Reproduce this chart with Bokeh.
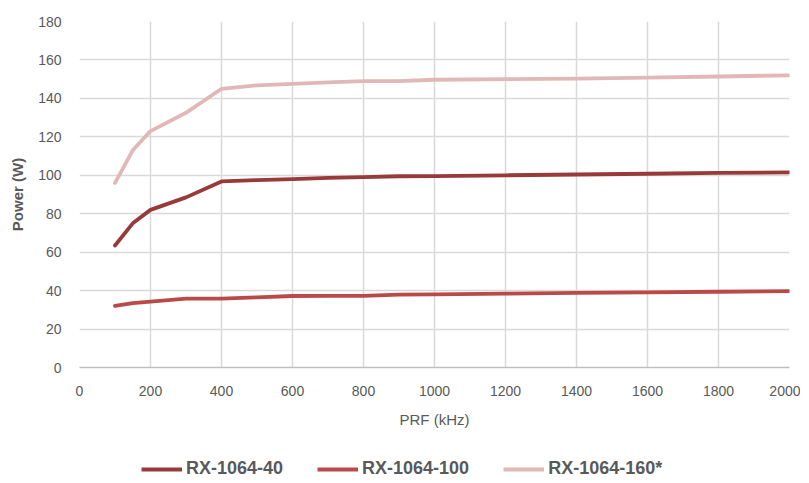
from bokeh.plotting import figure
from bokeh.layouts import column
from bokeh.models import Legend, LegendItem, FixedTicker, Range1d
from bokeh.embed import file_html
from bokeh.resources import INLINE

prf_khz = [100, 150, 200, 300, 400, 500, 600, 700, 800, 900, 1000, 1200, 1400, 1600, 1800, 2000]
rx_40 = [63.5, 75, 82, 88.5, 96.8, 97.5, 98, 98.6, 99, 99.5, 99.6, 100, 100.4, 100.8, 101.2, 101.5]
rx_100 = [32, 33.5, 34.3, 35.8, 35.8, 36.5, 37.2, 37.3, 37.3, 37.9, 38, 38.4, 38.8, 39.1, 39.4, 39.7]
rx_160 = [96, 113, 123, 132.5, 145, 146.8, 147.6, 148.3, 149, 149, 149.7, 150, 150.3, 150.8, 151.4, 152]
series_names = ["RX-1064-40", "RX-1064-100", "RX-1064-160*"]
x_ticks = list(range(0, 2001, 200))
y_ticks = list(range(0, 181, 20))

colors = ["#973A39", "#BA4A47", "#E2B8B6"]
FONT = "Liberation Sans"
TXT = "#595959"
LW = 3.8

# ---- main chart ----
p = figure(width=800, height=430, output_backend="svg", toolbar_location=None,
           x_range=Range1d(0, 2000), y_range=Range1d(0, 180),
           min_border_left=79, min_border_right=11, min_border_top=21, min_border_bottom=62)
p.outline_line_color = None

for ys, c in zip([rx_40, rx_100, rx_160], colors):
    p.line(prf_khz, ys, line_color=c, line_width=LW, line_join="round", line_cap="round")

p.xaxis.ticker = FixedTicker(ticks=x_ticks)
p.yaxis.ticker = FixedTicker(ticks=y_ticks)
for ax in (p.xaxis, p.yaxis):
    ax.major_tick_line_color = None
    ax.minor_tick_line_color = None
    ax.major_label_text_font = FONT
    ax.major_label_text_font_size = "14px"
    ax.major_label_text_color = TXT
    ax.axis_label_text_font = FONT
    ax.axis_label_text_color = TXT
    ax.axis_label_text_font_size = "15px"
p.yaxis.axis_line_color = None
p.xaxis.axis_line_color = "#BFBFBF"
p.xaxis.axis_line_width = 1.5
p.xaxis.major_label_standoff = 12
p.yaxis.major_label_standoff = 12
p.xaxis.axis_label = "PRF (kHz)"
p.xaxis.axis_label_text_font_style = "normal"
p.xaxis.axis_label_standoff = 12
p.yaxis.axis_label = "Power (W)"
p.yaxis.axis_label_text_font_style = "bold"
p.yaxis.axis_label_standoff = 9

p.xgrid.grid_line_color = "#D9D9D9"
p.ygrid.grid_line_color = "#D9D9D9"
p.xgrid.grid_line_width = 1.5
p.ygrid.grid_line_width = 1.5

# ---- legend strip (same series, viewed outside their range so only the legend shows) ----
q = figure(width=800, height=50, output_backend="svg", toolbar_location=None,
           x_range=Range1d(-20, -10), y_range=Range1d(0, 180),
           x_axis_type=None, y_axis_type=None, min_border=0)
q.outline_line_color = None
leg_renderers = [q.line(prf_khz, ys, line_color=c, line_width=LW)
                 for ys, c in zip([rx_40, rx_100, rx_160], colors)]
items = [LegendItem(label=name, renderers=[r]) for name, r in zip(series_names, leg_renderers)]
lg = Legend(items=items, location=(62, 1), orientation="horizontal",
            border_line_color=None, background_fill_alpha=0,
            padding=0, margin=0, spacing=34, glyph_width=41, glyph_height=20, label_standoff=4,
            label_text_font=FONT, label_text_font_size="18px", label_text_font_style="bold",
            label_text_color=TXT)
q.add_layout(lg, "center")

open("out.html", "w").write(file_html(column(p, q, spacing=0), INLINE))
